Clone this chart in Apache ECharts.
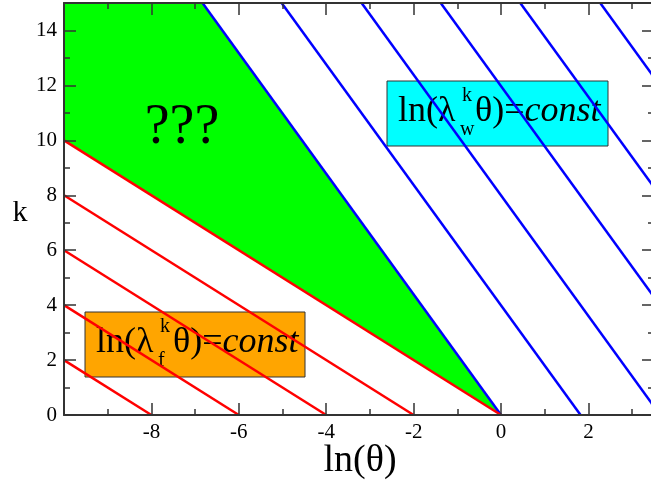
<!DOCTYPE html>
<html>
<head>
<meta charset="utf-8">
<script src="https://cdn.jsdelivr.net/npm/echarts@6/dist/echarts.min.js"></script>
<style>
html,body{margin:0;padding:0;background:#fff;overflow:hidden;}
#chart{width:651px;height:482px;}
</style>
</head>
<body>
<div id="chart"></div>
<script>
// ---- data ----
const xMin = -10, xMax = 3.5, yMin = 0, yMax = 15;
const xTickLabels = [-8, -6, -4, -2, 0, 2];
const xMajorTicks = [-10, -8, -6, -4, -2, 0, 2];
const xMinorTicks = [-9, -7, -5, -3, -1, 1, 3];
const yTickLabels = [0, 2, 4, 6, 8, 10, 12, 14];
const yMajorTicks = [0, 2, 4, 6, 8, 10, 12, 14];
const yMinorTicks = [1, 3, 5, 7, 9, 11, 13];

// red lines ln(lambda_f^k theta)=const : from (x=-10, k=start) to (x=end, k=0)
const redStartX = [-10, -10, -10, -10, -10];
const redStartK = [10, 8, 6, 4, 2];
const redEndX = [0, -2, -4, -6, -8];
const redEndK = [0, 0, 0, 0, 0];

// blue lines ln(lambda_w^k theta)=const : from (x=bottom, k=0) to (x=top, k=15)
const blueBottomX = [0, 1.82, 3.64, 5.46, 7.28, 9.10];
const blueTopX = [-6.83, -5.02, -3.19, -1.38, 0.44, 2.27];

// green region ("???")
const greenPolyX = [-10, -10, -6.83, 0];
const greenPolyY = [10, 15, 15, 0];

const labelQ = '???';
const xName = 'ln(θ)';
const yName = 'k';

// ---- chart ----
const FONT = 'Liberation Serif';
const AX = '#333';
const GRID = {left: 64, top: 3, width: 590, height: 412, containLabel: false, outerBoundsMode: 'none'};

function xAxisDef(g, pos, ticks, len, main) {
  return {
    type: 'value', gridIndex: g, position: pos, min: xMin, max: xMax, z: 10,
    axisLine: {show: main, onZero: false, lineStyle: {color: AX, width: 2}},
    axisTick: {show: true, inside: true, length: len, customValues: ticks, lineStyle: {color: AX, width: 1.5}},
    axisLabel: {show: main && pos === 'bottom', customValues: xTickLabels, margin: 7,
      fontFamily: FONT, fontSize: 21, color: '#000'},
    splitLine: {show: false}
  };
}
function yAxisDef(g, pos, ticks, len, main) {
  return {
    type: 'value', gridIndex: g, position: pos, min: yMin, max: yMax, z: 10,
    axisLine: {show: main, onZero: false, lineStyle: {color: AX, width: 2}},
    axisTick: {show: true, inside: true, length: len, customValues: ticks, lineStyle: {color: AX, width: 1.5}},
    axisLabel: {show: main && pos === 'left', customValues: yTickLabels, margin: 7,
      fontFamily: FONT, fontSize: 21, color: '#000'},
    splitLine: {show: false}
  };
}

const series = [];
series.push({
  type: 'custom', xAxisIndex: 0, yAxisIndex: 0, z: 1, silent: true,
  data: [[0, 0]],
  renderItem: function (params, api) {
    return {
      type: 'polygon',
      shape: {points: greenPolyX.map((x, i) => api.coord([x, greenPolyY[i]]))},
      style: {fill: '#00ff00'}
    };
  }
});
for (let i = 0; i < blueBottomX.length; i++) {
  series.push({
    type: 'line', xAxisIndex: 0, yAxisIndex: 0, z: 2, symbol: 'none', clip: true,
    data: [[blueBottomX[i], 0], [blueTopX[i], yMax]],
    lineStyle: {color: '#0000ff', width: 2.5}
  });
}
for (let i = 0; i < redStartX.length; i++) {
  series.push({
    type: 'line', xAxisIndex: 0, yAxisIndex: 0, z: 3, symbol: 'none', clip: true,
    data: [[redStartX[i], redStartK[i]], [redEndX[i], redEndK[i]]],
    lineStyle: {color: '#ff0000', width: 2.5}
  });
}

function eqBox(x, y, w, h, fill, sub) {
  const x0 = x + 11, mid = y + 31;
  return {
    type: 'group', z: 20, children: [
      {type: 'rect', shape: {x: x, y: y, width: w, height: h}, style: {fill: fill, stroke: '#333', lineWidth: 1}},
      {type: 'text', x: x0, y: mid, style: {text: 'ln(λ', font: '36px "' + FONT + '"', fill: '#000', verticalAlign: 'middle', align: 'left'}},
      {type: 'text', x: x0 + 64, y: mid - 16, style: {text: 'k', font: '20px "' + FONT + '"', fill: '#000', verticalAlign: 'middle', align: 'left'}},
      {type: 'text', x: x0 + 62, y: mid + 18, style: {text: sub, font: '20px "' + FONT + '"', fill: '#000', verticalAlign: 'middle', align: 'left'}},
      {type: 'text', x: x0 + 77, y: mid, style: {
        text: '{a|θ)=}{i|const}', verticalAlign: 'middle', align: 'left',
        rich: {
          a: {fontFamily: FONT, fontSize: 36, color: '#000'},
          i: {fontFamily: FONT, fontSize: 36, fontStyle: 'italic', color: '#000'}
        }
      }}
    ]
  };
}

const option = {
  animation: false,
  backgroundColor: '#fff',
  textStyle: {fontFamily: FONT},
  grid: [Object.assign({}, GRID), Object.assign({}, GRID), Object.assign({}, GRID), Object.assign({}, GRID)],
  xAxis: [
    xAxisDef(0, 'bottom', xMajorTicks, 12, true),
    xAxisDef(1, 'top', xMajorTicks, 12, true),
    xAxisDef(2, 'bottom', xMinorTicks, 6, false),
    xAxisDef(3, 'top', xMinorTicks, 6, false)
  ],
  yAxis: [
    yAxisDef(0, 'left', yMajorTicks, 12, true),
    yAxisDef(1, 'right', yMajorTicks, 12, true),
    yAxisDef(2, 'left', yMinorTicks, 6, false),
    yAxisDef(3, 'right', yMinorTicks, 6, false)
  ],
  series: series,
  graphic: [
    {type: 'text', x: 182, y: 128, z: 20, style: {text: labelQ, font: '56px "' + FONT + '"', fill: '#000', align: 'center', verticalAlign: 'middle'}},
    {type: 'text', x: 20, y: 213, z: 20, style: {text: yName, font: '30px "' + FONT + '"', fill: '#000', align: 'center', verticalAlign: 'middle'}},
    {type: 'text', x: 360, y: 461, z: 20, style: {text: xName, font: '38px "' + FONT + '"', fill: '#000', align: 'center', verticalAlign: 'middle'}},
    eqBox(387, 81, 221, 65, '#00ffff', 'w'),
    eqBox(85, 312, 220, 65, '#ffa500', 'f')
  ]
};

const chart = echarts.init(document.getElementById('chart'), null, {renderer: 'canvas'});
chart.setOption(option);
</script>
</body>
</html>
